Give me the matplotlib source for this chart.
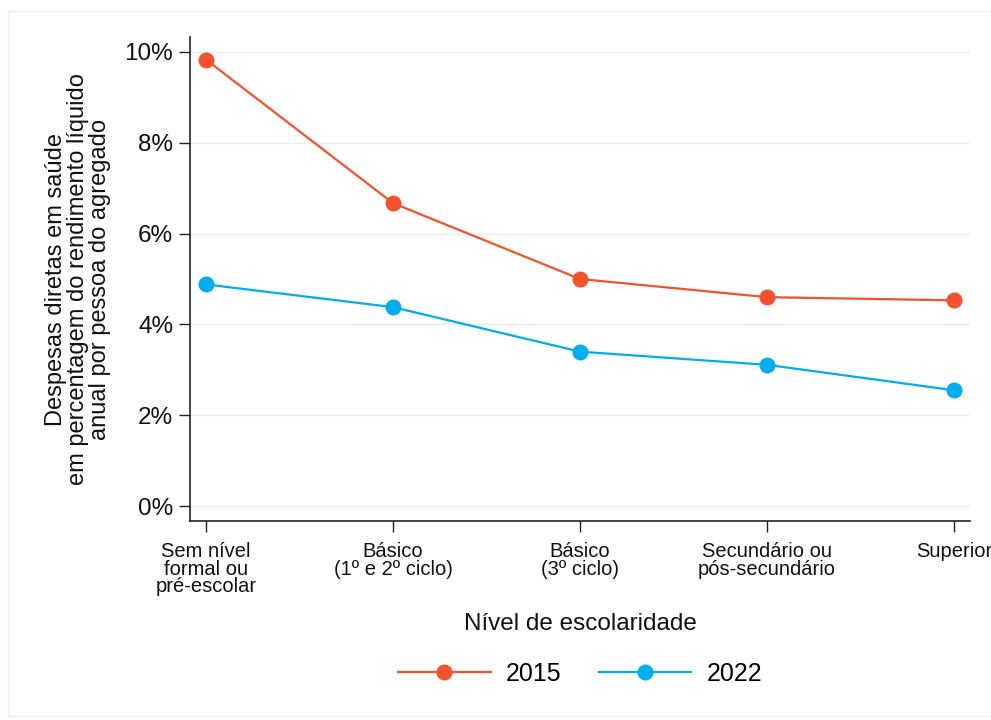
import matplotlib.pyplot as plt
from matplotlib.patches import Rectangle

plt.rcParams['font.family'] = ['Liberation Sans', 'DejaVu Sans']

# Dados
niveis = ['Sem nível\nformal ou\npré-escolar', 'Básico\n(1º e 2º ciclo)', 'Básico\n(3º ciclo)',
          'Secundário ou\npós-secundário', 'Superior']
v2015 = [9.83, 6.67, 5.0, 4.6, 4.53]
v2022 = [4.88, 4.38, 3.4, 3.11, 2.55]
yticks = [0, 2, 4, 6, 8, 10]

cor2015 = '#f2522e'
cor2022 = '#00adee'

fig = plt.figure(figsize=(9.91, 7.2), dpi=100)
fig.patches.append(Rectangle((8 / 991, 0.005), 1, 0.98, transform=fig.transFigure,
                             fill=False, edgecolor='#f0f0f0', linewidth=1))
ax = fig.add_axes([190 / 991, 1 - 521 / 720, 780 / 991, 484 / 720])

x = range(len(niveis))
ax.plot(x, v2015, color=cor2015, marker='o', markersize=10.5, linewidth=1.6, label='2015')
ax.plot(x, v2022, color=cor2022, marker='o', markersize=10.5, linewidth=1.6, label='2022')

ax.set_xlim(-0.086, 4.086)
ax.set_ylim(-0.33, 10.33)
ax.set_yticks(yticks)
ax.set_yticklabels([f'{t}%' for t in yticks])
ax.set_xticks(list(x))
ax.set_xticklabels(niveis, linespacing=0.92)
ax.tick_params(axis='both', length=8, width=1, color='#222222', labelcolor='#111111')
ax.tick_params(axis='y', labelsize=17.5, pad=4)
ax.tick_params(axis='x', labelsize=14.5, pad=7)
ax.grid(axis='y', color='#e9eeee', linewidth=1)
ax.set_axisbelow(True)
for s in ['top', 'right']:
    ax.spines[s].set_visible(False)
for s in ['left', 'bottom']:
    ax.spines[s].set_color('#222222')
    ax.spines[s].set_linewidth(1.2)

ax.set_ylabel('Despesas diretas em saúde\nem percentagem do rendimento líquido\nanual por pessoa do agregado',
              fontsize=17, linespacing=0.98, labelpad=10, color='#111111')
ax.set_xlabel('Nível de escolaridade', fontsize=17.5, labelpad=12, color='#111111')

ax.legend(loc='upper center', bbox_to_anchor=(0.5, -0.245), ncol=2, frameon=False,
          fontsize=18, handlelength=3.7, columnspacing=1.5, handletextpad=0.6)

fig.savefig('out.png', dpi=100, facecolor='white')
